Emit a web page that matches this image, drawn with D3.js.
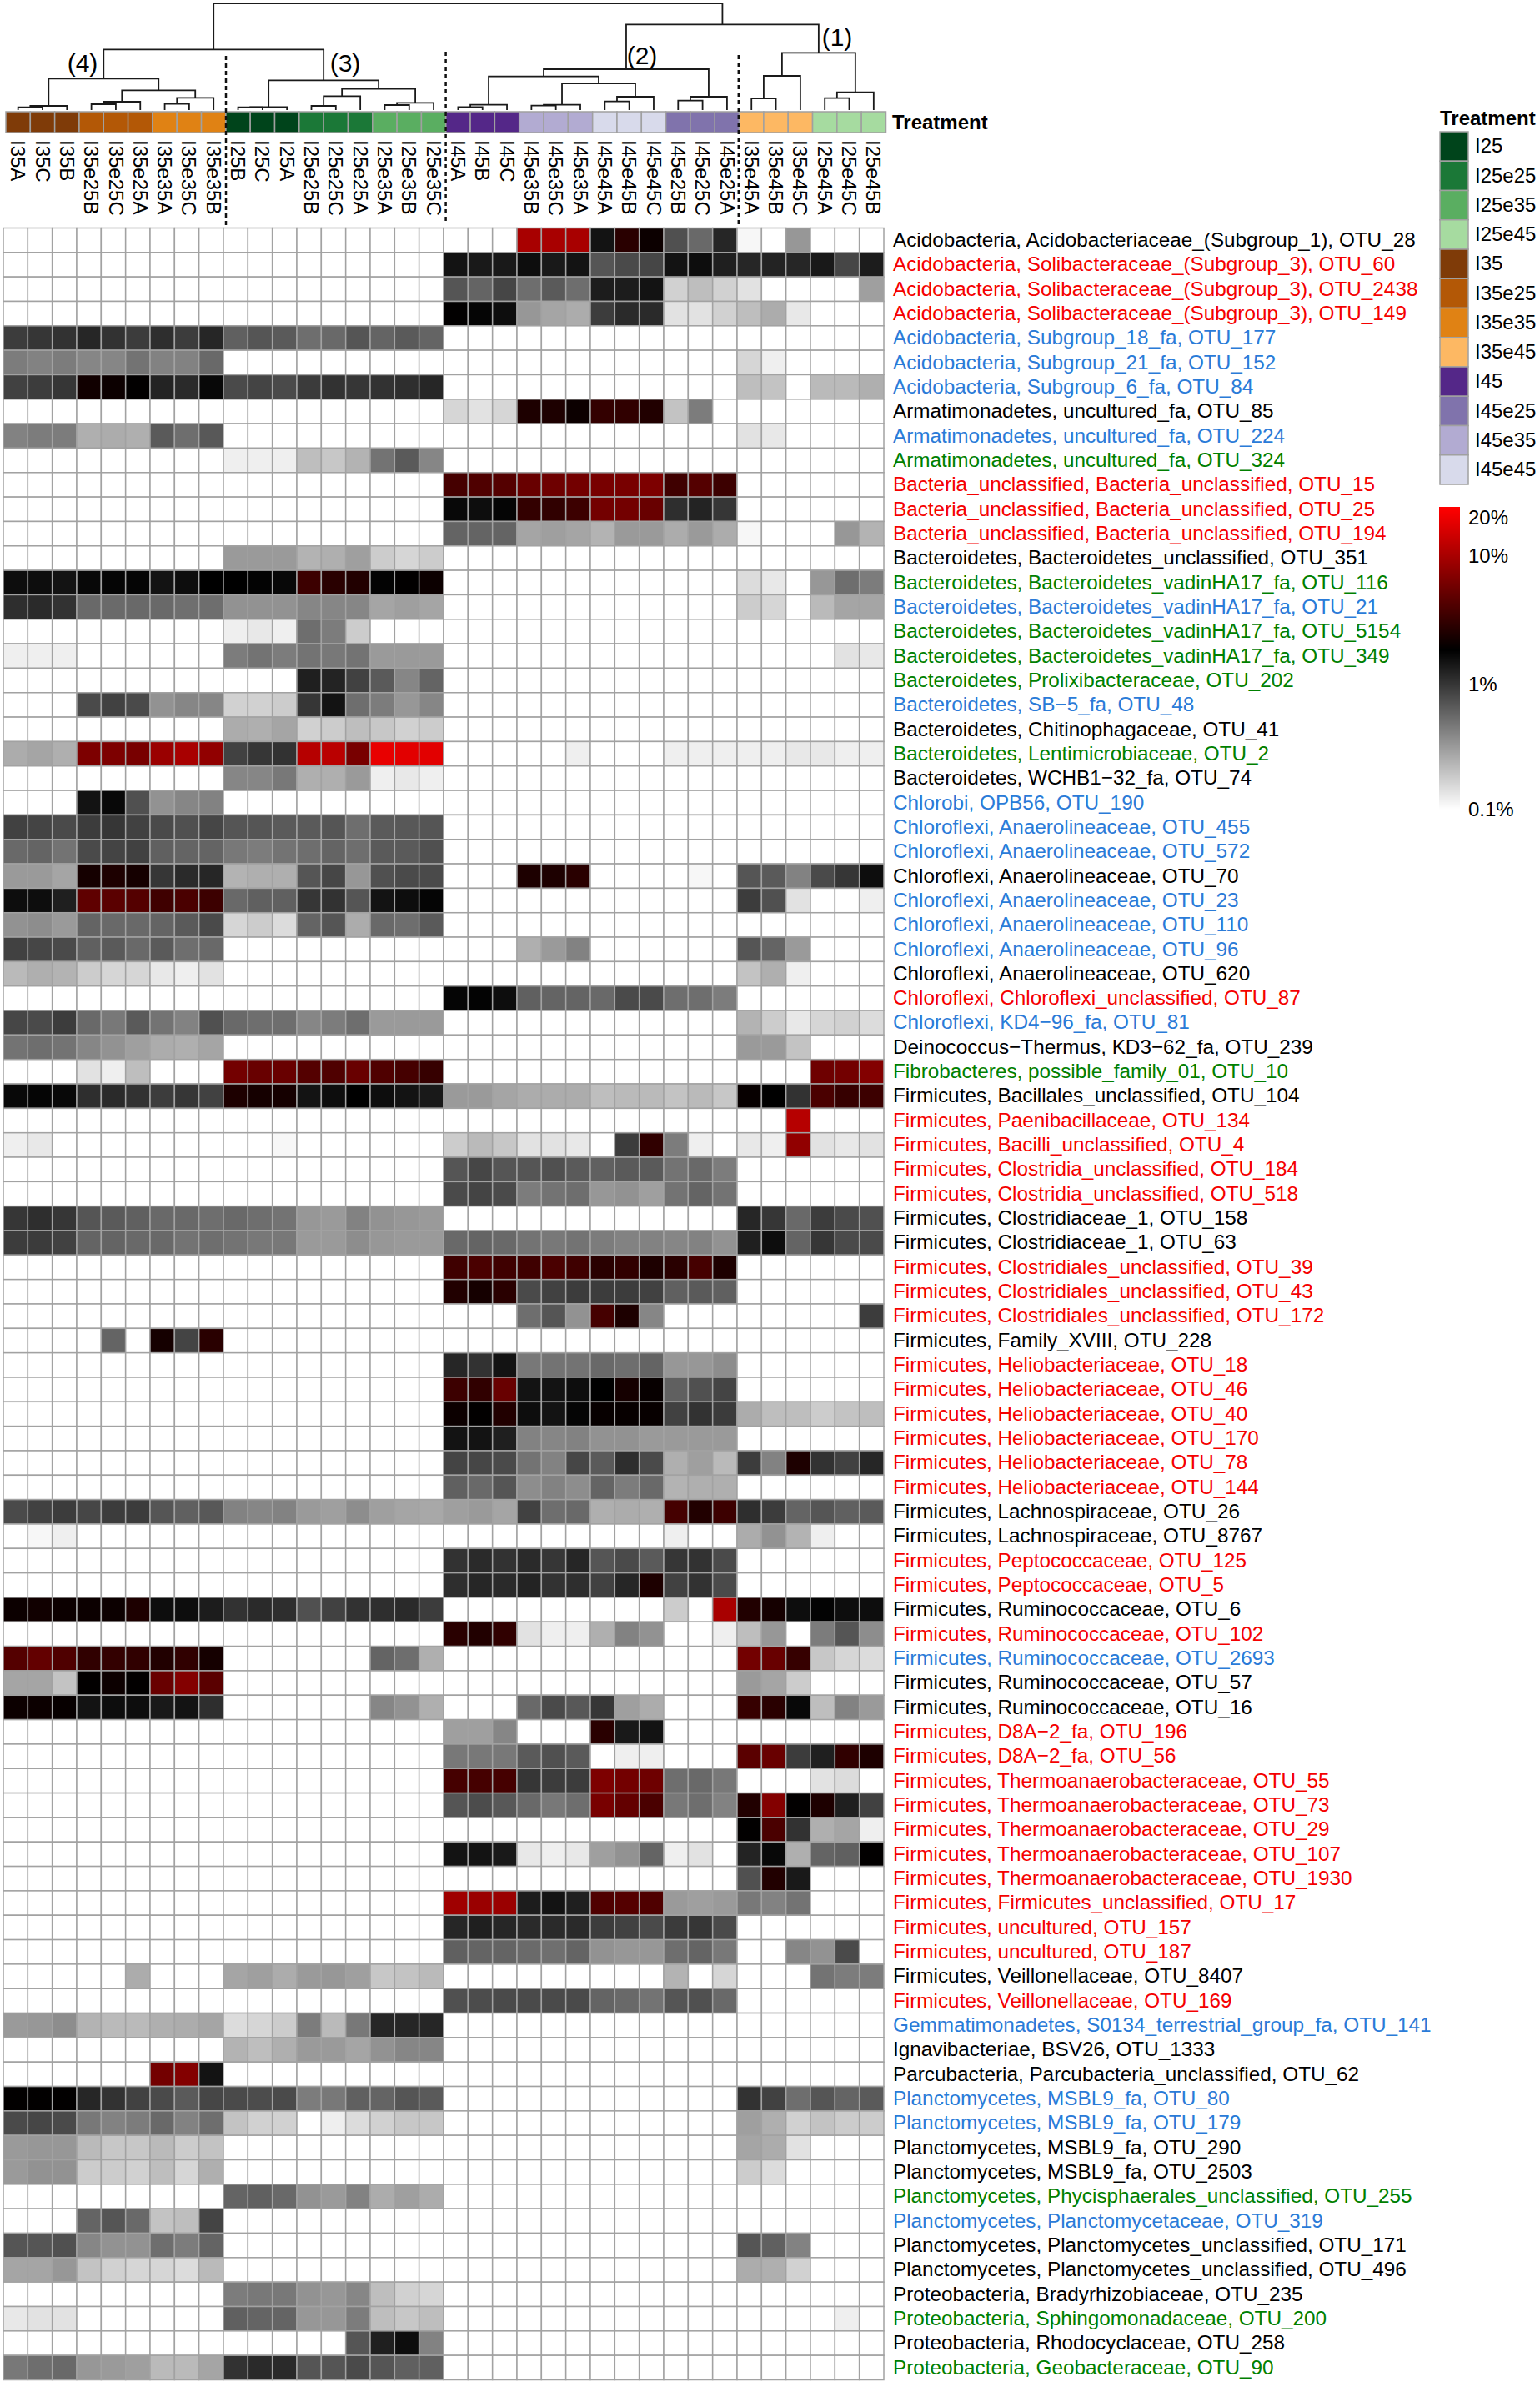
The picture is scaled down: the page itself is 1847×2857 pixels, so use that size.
<!DOCTYPE html>
<html><head><meta charset="utf-8">
<style>html,body{margin:0;padding:0;background:#fff}svg{display:block}text{font-family:"Liberation Sans",Arial,sans-serif}</style>
<script src="https://cdn.jsdelivr.net/npm/d3@7"></script>
</head><body><svg id="c" width="1847" height="2857"></svg>
<script>
const columns = ["I35A","I35C","I35B","I35e25B","I35e25C","I35e25A","I35e35A","I35e35C","I35e35B","I25B","I25C","I25A","I25e25B","I25e25C","I25e25A","I25e35A","I25e35B","I25e35C","I45A","I45B","I45C","I45e35B","I45e35C","I45e35A","I45e45A","I45e45B","I45e45C","I45e25B","I45e25C","I45e25A","I35e45A","I35e45B","I35e45C","I25e45A","I25e45C","I25e45B"];
const treatments = ["I25","I25e25","I25e35","I25e45","I35","I35e25","I35e35","I35e45","I45","I45e25","I45e35","I45e45"];
const treatmentColors = ["#00441b","#1b7837","#5aae61","#a6dba0","#7f3b08","#b35806","#e08214","#fdb863","#542788","#8073ac","#b2abd2","#d8daeb"];
const colorbarTicks = [0.1,1,10,20];
const rowLabels = [
"Acidobacteria, Acidobacteriaceae_(Subgroup_1), OTU_28","Acidobacteria, Solibacteraceae_(Subgroup_3), OTU_60","Acidobacteria, Solibacteraceae_(Subgroup_3), OTU_2438","Acidobacteria, Solibacteraceae_(Subgroup_3), OTU_149","Acidobacteria, Subgroup_18_fa, OTU_177","Acidobacteria, Subgroup_21_fa, OTU_152","Acidobacteria, Subgroup_6_fa, OTU_84","Armatimonadetes, uncultured_fa, OTU_85","Armatimonadetes, uncultured_fa, OTU_224","Armatimonadetes, uncultured_fa, OTU_324",
"Bacteria_unclassified, Bacteria_unclassified, OTU_15","Bacteria_unclassified, Bacteria_unclassified, OTU_25","Bacteria_unclassified, Bacteria_unclassified, OTU_194","Bacteroidetes, Bacteroidetes_unclassified, OTU_351","Bacteroidetes, Bacteroidetes_vadinHA17_fa, OTU_116","Bacteroidetes, Bacteroidetes_vadinHA17_fa, OTU_21","Bacteroidetes, Bacteroidetes_vadinHA17_fa, OTU_5154","Bacteroidetes, Bacteroidetes_vadinHA17_fa, OTU_349","Bacteroidetes, Prolixibacteraceae, OTU_202","Bacteroidetes, SB\u22125_fa, OTU_48",
"Bacteroidetes, Chitinophagaceae, OTU_41","Bacteroidetes, Lentimicrobiaceae, OTU_2","Bacteroidetes, WCHB1\u221232_fa, OTU_74","Chlorobi, OPB56, OTU_190","Chloroflexi, Anaerolineaceae, OTU_455","Chloroflexi, Anaerolineaceae, OTU_572","Chloroflexi, Anaerolineaceae, OTU_70","Chloroflexi, Anaerolineaceae, OTU_23","Chloroflexi, Anaerolineaceae, OTU_110","Chloroflexi, Anaerolineaceae, OTU_96",
"Chloroflexi, Anaerolineaceae, OTU_620","Chloroflexi, Chloroflexi_unclassified, OTU_87","Chloroflexi, KD4\u221296_fa, OTU_81","Deinococcus\u2212Thermus, KD3\u221262_fa, OTU_239","Fibrobacteres, possible_family_01, OTU_10","Firmicutes, Bacillales_unclassified, OTU_104","Firmicutes, Paenibacillaceae, OTU_134","Firmicutes, Bacilli_unclassified, OTU_4","Firmicutes, Clostridia_unclassified, OTU_184","Firmicutes, Clostridia_unclassified, OTU_518",
"Firmicutes, Clostridiaceae_1, OTU_158","Firmicutes, Clostridiaceae_1, OTU_63","Firmicutes, Clostridiales_unclassified, OTU_39","Firmicutes, Clostridiales_unclassified, OTU_43","Firmicutes, Clostridiales_unclassified, OTU_172","Firmicutes, Family_XVIII, OTU_228","Firmicutes, Heliobacteriaceae, OTU_18","Firmicutes, Heliobacteriaceae, OTU_46","Firmicutes, Heliobacteriaceae, OTU_40","Firmicutes, Heliobacteriaceae, OTU_170",
"Firmicutes, Heliobacteriaceae, OTU_78","Firmicutes, Heliobacteriaceae, OTU_144","Firmicutes, Lachnospiraceae, OTU_26","Firmicutes, Lachnospiraceae, OTU_8767","Firmicutes, Peptococcaceae, OTU_125","Firmicutes, Peptococcaceae, OTU_5","Firmicutes, Ruminococcaceae, OTU_6","Firmicutes, Ruminococcaceae, OTU_102","Firmicutes, Ruminococcaceae, OTU_2693","Firmicutes, Ruminococcaceae, OTU_57",
"Firmicutes, Ruminococcaceae, OTU_16","Firmicutes, D8A\u22122_fa, OTU_196","Firmicutes, D8A\u22122_fa, OTU_56","Firmicutes, Thermoanaerobacteraceae, OTU_55","Firmicutes, Thermoanaerobacteraceae, OTU_73","Firmicutes, Thermoanaerobacteraceae, OTU_29","Firmicutes, Thermoanaerobacteraceae, OTU_107","Firmicutes, Thermoanaerobacteraceae, OTU_1930","Firmicutes, Firmicutes_unclassified, OTU_17","Firmicutes, uncultured, OTU_157",
"Firmicutes, uncultured, OTU_187","Firmicutes, Veillonellaceae, OTU_8407","Firmicutes, Veillonellaceae, OTU_169","Gemmatimonadetes, S0134_terrestrial_group_fa, OTU_141","Ignavibacteriae, BSV26, OTU_1333","Parcubacteria, Parcubacteria_unclassified, OTU_62","Planctomycetes, MSBL9_fa, OTU_80","Planctomycetes, MSBL9_fa, OTU_179","Planctomycetes, MSBL9_fa, OTU_290","Planctomycetes, MSBL9_fa, OTU_2503",
"Planctomycetes, Phycisphaerales_unclassified, OTU_255","Planctomycetes, Planctomycetaceae, OTU_319","Planctomycetes, Planctomycetes_unclassified, OTU_171","Planctomycetes, Planctomycetes_unclassified, OTU_496","Proteobacteria, Bradyrhizobiaceae, OTU_235","Proteobacteria, Sphingomonadaceae, OTU_200","Proteobacteria, Rhodocyclaceae, OTU_258","Proteobacteria, Geobacteraceae, OTU_90"];
const labelClass = "krrrbbbkbgrrr"+"kgbgggbkgkb"+"bbkbbbkrbkgk"+"rrrrkkrrrk"+"rrrrrrkkrrkrbkk"+"rrrrrrrrrr"+"krbkkbbkkgbkkkgkg";
const labelColors = {k:"#000000",r:"#f50000",b:"#2a7bd8",g:"#008000"};
// percent abundance per OTU (row) and sample (column); 0 = at or below the 0.1% floor
const abundance = [
[0,0,0,0,0,0,0,0,0, 0,0,0,0,0,0,0,0,0, 0,0,0,10,10,10,1.5,2.8,2.1,.74,.56,1.2, .11,0,.33,0,0,0],
[0,0,0,0,0,0,0,0,0, 0,0,0,0,0,0,0,0,0, 1.5,1.4,1.4,1.6,1.4,1.5,.7,.8,.83,1.5,1.6,1.3, 1.2,1.25,1.2,1.4,.83,1.35],
[0,0,0,0,0,0,0,0,0, 0,0,0,0,0,0,0,0,0, .7,.59,.83,.53,.66,.53,1.35,1.35,1.5,.17,.21,.17, .14,0,0,0,0,.3],
[0,0,0,0,0,0,0,0,0, 0,0,0,0,0,0,0,0,0, 1.9,1.75,1.6,.33,.28,.26,.93,1.15,1.15,.14,.14,.17, .21,.26,.13,0,0,0],
[.93,1,1.05,1.2,1.05,.93,1.1,.93,1.2, .62,.7,.66,.53,.56,.7,.59,.66,.59, 0,0,0,0,0,0,0,0,0,0,0,0, 0,0,0,0,0,0],
[.45,.42,.45,.4,.4,.5,.42,.42,.56, 0,0,0,0,0,0,0,0,0, 0,0,0,0,0,0,0,0,0,0,0,0, .16,.12,0,0,0,0],
[.88,.93,1,2.2,2.1,1.9,1.25,1.15,1.7, .8,.85,.8,.95,1.05,1,1.05,1.1,1.2, 0,0,0,0,0,0,0,0,0,0,0,0, .21,.2,0,.22,.22,.25],
[0,0,0,0,0,0,0,0,0, 0,0,0,0,0,0,0,0,0, .16,.14,.16,2.5,2.5,2.1,3.1,3,2.6,.2,.45,0, 0,0,0,0,0,0],
[.42,.45,.45,.25,.26,.25,.66,.53,.68, 0,0,0,0,0,0,0,0,0, 0,0,0,0,0,0,0,0,0,0,0,0, .14,.13,0,0,0,0],
[0,0,0,0,0,0,0,0,0, .12,.12,.12,.21,.19,.24,.5,.66,.4, 0,0,0,0,0,0,0,0,0,0,0,0, 0,0,0,0,0,0],
[0,0,0,0,0,0,0,0,0, 0,0,0,0,0,0,0,0,0, 3.7,4.1,4.3,5.3,5.6,5.9,6.2,6.2,6.5,3.5,4.3,3.4, 0,0,0,0,0,0],
[0,0,0,0,0,0,0,0,0, 0,0,0,0,0,0,0,0,0, 1.7,1.6,1.75,3.1,3,3.4,5.9,5.9,5.3,1.1,1.25,1, 0,0,0,0,0,0],
[0,0,0,0,0,0,0,0,0, 0,0,0,0,0,0,0,0,0, .59,.59,.59,.28,.3,.28,.24,.32,.32,.26,.32,.26, .11,0,0,0,.33,.24],
[0,0,0,0,0,0,0,0,0, .32,.32,.32,.24,.25,.3,.18,.16,.18, 0,0,0,0,0,0,0,0,0,0,0,0, 0,0,0,0,0,0],
[1.6,1.6,1.5,1.7,1.75,1.75,1.5,1.6,1.85, 1.85,1.8,1.7,3.4,2.8,2.6,1.8,1.9,2.1, 0,0,0,0,0,0,0,0,0,0,0,0, .15,.13,0,.33,.53,.45],
[1.1,1.15,1.05,.56,.55,.56,.56,.52,.53, .35,.35,.35,.4,.4,.4,.28,.3,.28, 0,0,0,0,0,0,0,0,0,0,0,0, .18,.16,0,.22,.28,.28],
[0,0,0,0,0,0,0,0,0, .12,.13,.12,.53,.45,.18,0,0,0, 0,0,0,0,0,0,0,0,0,0,0,0, 0,0,0,0,0,0],
[.12,.12,.12,0,0,0,0,0,0, .45,.5,.45,.5,.47,.5,.32,.32,.32, 0,0,0,0,0,0,0,0,0,0,0,0, 0,0,0,0,.14,.13],
[0,0,0,0,0,0,0,0,0, 0,0,0,1.3,1.25,.88,.66,.4,.59, 0,0,0,0,0,0,0,0,0,0,0,0, 0,0,0,0,0,0],
[0,0,0,.8,.88,.8,.35,.4,.4, .17,.17,.18,1,1.5,.53,.45,.33,.4, 0,0,0,0,0,0,0,0,0,0,0,0, 0,0,0,0,0,0],
[0,0,0,0,0,0,0,0,0, .26,.25,.28,.17,.18,.21,.19,.17,.18, 0,0,0,0,0,0,0,0,0,0,0,0, 0,0,0,0,0,0],
[.26,.28,.25,6.5,6.5,6.2,8.7,10,8, .88,1,1.05,11.5,12,6.2,19,18,18, 0,0,0,0,0,.12,0,0,0,.12,.12,.12, .12,.12,.13,.13,.12,.12],
[0,0,0,0,0,0,0,0,0, .4,.4,.47,.25,.25,.32,.12,.13,.12, 0,0,0,0,0,0,0,0,0,0,0,0, 0,0,0,0,0,0],
[0,0,0,1.5,1.7,.74,.35,.4,.42, 0,0,0,0,0,0,0,0,0, 0,0,0,0,0,0,0,0,0,0,0,0, 0,0,0,0,0,0],
[.88,.85,.8,.93,1,.88,.8,.74,.83, .7,.7,.66,.66,.7,.53,.66,.68,.7, 0,0,0,0,0,0,0,0,0,0,0,0, 0,0,0,0,0,0],
[.56,.59,.5,.8,.85,.88,.62,.59,.59, .47,.45,.5,.53,.59,.53,.66,.66,.74, 0,0,0,0,0,0,0,0,0,0,0,0, 0,0,0,0,0,0],
[.32,.32,.28,2.3,2.5,2.3,1,1.15,1.2, .24,.25,.25,.7,.83,.33,.74,.8,.8, 0,0,0,2.5,2.5,2.8,0,0,0,0,.11,0, .7,.66,.42,.8,1,1.6],
[1.6,1.6,1.3,4.8,4.6,4.3,3.5,3.9,3.4, .56,.62,.62,1,1.05,.7,1.5,1.6,1.75, 0,0,0,0,0,0,0,0,0,0,0,0, .93,.74,.14,0,0,.12],
[.35,.37,.32,.59,.56,.56,.59,.66,.8, .16,.18,.15,.59,.7,.26,.56,.53,.66, 0,0,0,0,0,0,0,0,0,0,0,0, 0,0,0,0,0,0],
[.88,.83,.8,.62,.66,.56,.66,.53,.56, 0,0,0,0,0,0,0,0,0, 0,0,0,.25,.32,.42,0,0,0,0,0,0, .7,.59,.32,0,0,0],
[.22,.25,.24,.18,.16,.16,.13,.12,.14, 0,0,0,0,0,0,0,0,0, 0,0,0,0,0,0,0,0,0,0,0,0, .2,.25,.12,0,0,0],
[0,0,0,0,0,0,0,0,0, 0,0,0,0,0,0,0,0,0, 1.75,1.8,1.6,.62,.59,.59,.56,.8,.8,.53,.53,.45, 0,0,0,0,0,0],
[.83,.8,.93,.56,.47,.66,.5,.42,.74, .56,.53,.53,.4,.45,.53,.32,.32,.32, 0,0,0,0,0,0,0,0,0,0,0,0, .24,.18,.13,.16,.17,.15],
[.5,.53,.5,.4,.35,.3,.26,.25,.28, 0,0,0,0,0,0,0,0,0, 0,0,0,0,0,0,0,0,0,0,0,0, .32,.32,.2,0,0,0],
[0,0,0,.14,.12,.21,0,0,0, 5.9,5.3,5.3,4.3,4.1,5.3,4.1,3.7,3.2, 0,0,0,0,0,0,0,0,0,0,0,0, 0,0,0,5.6,5.9,6.9],
[1.7,1.75,1.7,1.1,1.15,1.05,.93,1,.88, 2.5,2.3,2.3,1.5,1.6,1.85,1.6,1.5,1.4, .32,.32,.28,.26,.26,.26,.21,.22,.22,.2,.22,.19, 2,1.85,1.05,3.9,3.2,3.4],
[0,0,0,0,0,0,0,0,0, 0,0,0,0,0,0,0,0,0, 0,0,0,0,0,0,0,0,0,0,0,0, 0,0,11.5,0,0,0],
[.12,.13,0,0,0,0,0,0,0, 0,0,.11,0,0,0,0,0,0, .18,.22,.19,.14,.14,.13,0,.93,3,.45,.12,0, .13,.12,8,.14,.13,.14],
[0,0,0,0,0,0,0,0,0, 0,0,0,0,0,0,0,0,0, .7,.83,.7,.7,.74,.66,.62,.66,.66,.5,.56,.45, 0,0,0,0,0,0],
[0,0,0,0,0,0,0,0,0, 0,0,0,0,0,0,0,0,0, .8,.85,.8,.45,.5,.53,.33,.35,.3,.5,.59,.5, 0,0,0,0,0,0],
[1,1.1,1,.7,.66,.62,.56,.56,.53, .56,.53,.5,.33,.32,.42,.35,.33,.32, 0,0,0,0,0,0,0,0,0,0,0,0, 1.2,1,.56,.93,.8,.74],
[.93,.95,.88,.59,.59,.56,.56,.5,.53, .5,.47,.47,.32,.32,.37,.33,.32,.32, .56,.59,.56,.5,.47,.5,.45,.42,.42,.4,.42,.35, 1.3,1.6,.59,1,.8,.8],
[0,0,0,0,0,0,0,0,0, 0,0,0,0,0,0,0,0,0, 3.5,3.9,3.5,3.5,3.9,3.5,2.8,3,2.5,2.8,3.7,2.5, 0,0,0,0,0,0],
[0,0,0,0,0,0,0,0,0, 0,0,0,0,0,0,0,0,0, 2.6,2.3,2.8,.8,.88,.93,.93,.93,.88,.62,.66,.62, 0,0,0,0,0,0],
[0,0,0,0,0,0,0,0,0, 0,0,0,0,0,0,0,0,0, 0,0,0,.53,.7,.35,3.7,2.5,.4,0,0,0, 0,0,0,0,0,.93],
[0,0,0,0,.59,0,2.3,.85,2.8, 0,0,0,0,0,0,0,0,0, 0,0,0,0,0,0,0,0,0,0,0,0, 0,0,0,0,0,0],
[0,0,0,0,0,0,0,0,0, 0,0,0,0,0,0,0,0,0, 1.2,1.05,1.5,.47,.5,.5,.56,.53,.59,.33,.33,.37, 0,0,0,0,0,0],
[0,0,0,0,0,0,0,0,0, 0,0,0,0,0,0,0,0,0, 3.4,3,5.3,1.5,1.5,1.6,1.85,2.3,2,.62,.74,.85, 0,0,0,0,0,0],
[0,0,0,0,0,0,0,0,0, 0,0,0,0,0,0,0,0,0, 2.1,1.9,2.6,1.6,1.5,1.75,2,2,2,.88,1.05,.95, .26,.21,.21,.18,.2,.21],
[0,0,0,0,0,0,0,0,0, 0,0,0,0,0,0,0,0,0, 1.5,1.5,1.3,.42,.4,.42,.35,.35,.32,.32,.32,.32, 0,0,0,0,0,0],
[0,0,0,0,0,0,0,0,0, 0,0,0,0,0,0,0,0,0, .85,.83,.8,.5,.42,.83,.66,1.1,.8,.25,.3,.22, .93,.42,2.5,1.05,.88,1.2],
[0,0,0,0,0,0,0,0,0, 0,0,0,0,0,0,0,0,0, .62,.56,.7,.37,.42,.37,.59,.45,.56,.24,.25,.25, 0,0,0,0,0,0],
[.8,.88,.93,.83,.93,.93,.7,.62,.68, .42,.4,.42,.32,.3,.37,.3,.28,.27, .3,.32,.28,.88,.53,.56,.25,.26,.25,3.7,2.6,3.4, 1.1,.93,.59,.7,.62,.66],
[0,.11,.12,0,0,0,0,0,0, 0,0,0,0,0,0,0,0,0, 0,0,0,0,0,0,0,0,0,.12,0,0, .26,.35,.24,.12,0,0],
[0,0,0,0,0,0,0,0,0, 0,0,0,0,0,0,0,0,0, 1.05,1.15,1.05,1.15,1,1.2,.7,.8,.66,1,1.05,.8, 0,0,0,0,0,0],
[0,0,0,0,0,0,0,0,0, 0,0,0,0,0,0,0,0,0, 1.1,1.2,1.15,1.25,1.05,1.1,.88,1.2,2.5,.88,1.05,.8, 0,0,0,0,0,0],
[2.1,2.2,2.1,2.1,2.1,2.5,1.6,1.6,1.35, 1.05,1.15,1.1,.74,.88,1.05,1.1,1.15,.93, 0,0,0,0,0,0,0,0,0,.18,0,10, 2.6,2.3,1.6,1.8,1.6,1.6],
[0,0,0,0,0,0,0,0,0, 0,0,0,0,0,0,0,0,0, 2.8,2.6,3,.14,.12,.12,.25,.42,.35,0,0,.12, .21,.33,0,.45,.7,.37],
[4.3,5,4.1,3,3.1,3,2.6,3,2.3, 0,0,0,0,0,0,.59,.53,.25, 0,0,0,0,0,0,0,0,0,0,0,0, 5.9,5.3,3.2,.19,.16,.15],
[.28,.28,.2,1.9,2.1,1.9,5.3,6.9,4.6, 0,0,0,0,0,0,0,0,0, 0,0,0,0,0,0,0,0,0,0,0,0, .32,.28,.18,0,0,0],
[2.1,2.1,2,1.5,1.6,1.6,1.4,1.5,1.1, 0,0,0,0,0,0,.4,.35,.25, 0,0,0,.56,.8,.68,1,.3,.26,0,0,0, 3.2,2.8,1.7,.21,.42,.32],
[0,0,0,0,0,0,0,0,0, 0,0,0,0,0,0,0,0,0, .3,.3,.4,0,0,0,2.8,1.4,1.5,0,0,0, 0,0,0,0,0,0],
[0,0,0,0,0,0,0,0,0, 0,0,0,0,0,0,0,0,0, .47,.47,.47,.66,.74,.66,0,.12,.12,0,0,0, 4.6,5.3,.93,1.3,3,2.5],
[0,0,0,0,0,0,0,0,0, 0,0,0,0,0,0,0,0,0, 3.7,3.7,3.7,1,.93,.93,6.5,5.9,5.6,.53,.56,.47, 0,0,0,.14,.15,0],
[0,0,0,0,0,0,0,0,0, 0,0,0,0,0,0,0,0,0, .7,.78,.68,.56,.47,.53,6.2,5,3.9,.47,.53,.42, 2.6,6.9,1.9,2.5,1.3,.88],
[0,0,0,0,0,0,0,0,0, 0,0,0,0,0,0,0,0,0, 0,0,0,0,0,0,0,0,0,0,0,0, 1.9,3.9,1.05,.25,.28,.12],
[0,0,0,0,0,0,0,0,0, 0,0,0,0,0,0,0,0,0, 1.5,1.5,1.4,.13,.12,.13,.3,.35,.59,.12,.14,0, 1.25,1.7,.25,.59,.62,1.9],
[0,0,0,0,0,0,0,0,0, 0,0,0,0,0,0,0,0,0, 0,0,0,0,0,0,0,0,0,0,0,0, .74,2.6,1.4,0,0,0],
[0,0,0,0,0,0,0,0,0, 0,0,0,0,0,0,0,0,0, 9.2,8.7,8.7,1.35,1.5,1.3,4.1,4.3,4.1,.32,.3,.32, .47,.42,.5,0,0,0],
[0,0,0,0,0,0,0,0,0, 0,0,0,0,0,0,0,0,0, 1.2,1.3,1.2,1.15,1.15,1.15,.93,.88,.8,.95,1,.8, 0,0,0,0,0,0],
[0,0,0,0,0,0,0,0,0, 0,0,0,0,0,0,0,0,0, .62,.59,.59,.55,.52,.59,.35,.33,.33,.53,.59,.47, 0,0,.4,.35,.8,0],
[0,0,0,0,0,.26,0,0,0, .28,.3,.26,.32,.33,.3,.19,.2,.22, 0,0,0,0,0,0,0,0,0,.24,0,.16, 0,0,0,.5,.45,.45],
[0,0,0,0,0,0,0,0,0, 0,0,0,0,0,0,0,0,0, .74,.78,.8,.8,.8,.8,.59,.56,.5,.7,.74,.56, 0,0,0,0,0,0],
[.32,.33,.37,.24,.22,.22,.25,.26,.28, .15,.16,.18,.45,.22,.47,1.2,1.2,1.2, 0,0,0,0,0,0,0,0,0,0,0,0, 0,0,0,0,0,0],
[0,0,0,0,0,0,0,0,0, .24,.21,.25,.32,.32,.28,.35,.4,.4, 0,0,0,0,0,0,0,0,0,0,0,0, 0,0,0,0,0,0],
[0,0,0,0,0,0,5.9,6.9,1.5, 0,0,0,0,0,0,0,0,0, 0,0,0,0,0,0,0,0,0,0,0,0, 0,0,0,0,0,0],
[1.9,1.9,1.9,1.2,1.05,.88,.8,.66,.83, .8,.78,.8,.45,.47,.62,.59,.7,.66, 0,0,0,0,0,0,0,0,0,0,0,0, 1.05,.88,.53,.7,.59,.66],
[.8,.83,.8,.47,.42,.45,.56,.42,.53, .2,.17,.17,0,.12,.15,.17,.19,.19, 0,0,0,0,0,0,0,0,0,0,0,0, .3,.25,.17,.2,.18,.18],
[.32,.33,.33,.22,.19,.19,.22,.18,.2, 0,0,0,0,0,0,0,0,0, 0,0,0,0,0,0,0,0,0,0,0,0, .28,.26,.14,0,0,0],
[.32,.35,.35,.18,.18,.17,.21,.16,.25, 0,0,0,0,0,0,0,0,0, 0,0,0,0,0,0,0,0,0,0,0,0, .18,.15,0,0,0,0],
[0,0,0,0,0,0,0,0,0, .59,.62,.56,.35,.32,.42,.26,.3,.26, 0,0,0,0,0,0,0,0,0,0,0,0, 0,0,0,0,0,0],
[0,0,0,.59,.7,.56,.2,.21,.85, 0,0,0,0,0,0,0,0,0, 0,0,0,0,0,0,0,0,0,0,0,0, 0,0,0,0,0,0],
[.7,.7,.74,.4,.35,.35,.53,.45,.59, 0,0,0,0,0,0,0,0,0, 0,0,0,0,0,0,0,0,0,0,0,0, .7,.62,.42,0,0,0],
[.28,.28,.33,.2,.17,.16,.16,.15,.22, 0,0,0,0,0,0,0,0,0, 0,0,0,0,0,0,0,0,0,0,0,0, .26,.25,.17,0,0,0],
[0,0,0,0,0,0,0,0,0, .45,.47,.47,.35,.33,.4,.21,.17,.16, 0,0,0,0,0,0,0,0,0,0,0,0, 0,0,0,0,0,0],
[.13,.14,.14,0,0,0,0,0,0, .62,.59,.59,.33,.33,.45,.21,.19,.21, 0,0,0,0,0,0,0,0,0,0,0,0, 0,0,0,0,.12,0],
[0,0,0,0,0,0,0,0,0, 0,0,0,0,0,.7,1.3,1.6,.42, 0,0,0,0,0,0,0,0,0,0,0,0, 0,0,0,0,0,0],
[.47,.53,.56,.33,.32,.3,.22,.22,.28, 1.05,1.15,1.15,.7,.7,.8,.7,.62,.62, 0,0,0,0,0,0,0,0,0,0,0,0, 0,0,0,0,0,0]
];
const n = (h, ...c) => ({h, c});
// sample dendrogram: merge heights on an arbitrary distance scale
const dendrogram = n(128,
  n(72.7,
    n(37.7, n(5, n(3.3,"I35A","I35C"),"I35B"),
            n(23.7, n(10,n(7,"I35e25B","I35e25C"),"I35e25A"), n(14.7,n(7.3,"I35e35A","I35e35C"),"I35e35B"))),
    n(35.7, n(3.7,n(3.3,"I25B","I25C"),"I25A"),
            n(25.3, n(16.7,n(5,"I25e25B","I25e25C"),"I25e25A"), n(8.7,n(6,"I25e35A","I25e35B"),"I25e35C")))),
  n(102.7,
    n(49,
      n(40.3, n(6.3,n(3.7,"I45A","I45B"),"I45C"),
              n(32, n(6.3,n(5.3,"I45e35B","I45e35C"),"I45e35A"), n(16,n(10.3,"I45e45A","I45e45B"),"I45e45C"))),
      n(16,n(11.3,"I45e25B","I45e25C"),"I45e25A")),
    n(68.7, n(41,n(14,"I35e45A","I35e45B"),"I35e45C"), n(21.3,n(14.3,"I25e45A","I25e45C"),"I25e45B"))));
const clusterTags = [["(4)",99,75],["(3)",414,75],["(2)",770,66],["(1)",1004,44]];
const clusterCuts = [[271,67,274],[534.6,62,269],[885.8,66,273]];

const svg = d3.select("#c");
const FS = 24;
const x = d3.scaleBand(columns,[4,1060]);
const xBar = d3.scaleBand(columns,[7,1062.5]);
const y = d3.scaleBand(rowLabels,[273.5,2854.5]);
const abundanceColor = d3.scaleLog([0.1,1.86,24],["#ffffff","#000000","#ff0000"]).clamp(true).interpolate(d3.interpolateRgb);
const color = v => abundanceColor(Math.max(v,0.1));
const treatColor = d3.scaleOrdinal(treatments,treatmentColors);
const treatmentOf = s => s.slice(0,-1);
const GRID = "#a2a2a2";

// heatmap
const rows = svg.append("g").selectAll("g").data(abundance).join("g");
rows.selectAll("rect").data((r,i)=>r.map((v,j)=>({v,row:rowLabels[i],col:columns[j]}))).join("rect")
  .attr("x",d=>x(d.col)).attr("y",d=>y(d.row)).attr("width",x.bandwidth()).attr("height",y.bandwidth())
  .attr("fill",d=>color(d.v)).attr("stroke",GRID).attr("stroke-width",1.5);

// row labels
const rowAxis = svg.append("g").attr("transform","translate(1060,0)")
  .call(d3.axisRight(y).tickSize(0).tickPadding(11));
rowAxis.select(".domain").remove();
rowAxis.selectAll("text").attr("font-size",24.3).attr("font-family",null)
  .attr("fill",(d,i)=>labelColors[labelClass[i]]);

// annotation bar
svg.append("g").selectAll("rect").data(columns).join("rect")
  .attr("x",d=>xBar(d)).attr("y",134).attr("width",xBar.bandwidth()).attr("height",25)
  .attr("fill",d=>treatColor(treatmentOf(d))).attr("stroke","#a0a0a0").attr("stroke-width",1.5);
svg.append("text").attr("x",1070).attr("y",147).attr("dy",".35em").attr("font-size",FS).attr("font-weight","bold").text("Treatment");

// column labels
const colAxis = svg.append("g").attr("transform","translate(0,168)").call(d3.axisBottom(xBar).tickSize(0));
colAxis.select(".domain").remove();
colAxis.selectAll("text").attr("font-size",FS).attr("font-family",null).attr("fill","#000")
  .attr("text-anchor","start").attr("x",0).attr("y",0).attr("dy",".35em").attr("transform","rotate(90)");

// dendrogram
const yD = d3.scaleLinear([0,128],[132,4]);
const root = d3.hierarchy(dendrogram,d=>d.c);
root.eachAfter(nd=>{
  if(!nd.children){nd.px=xBar(nd.data)+xBar.bandwidth()/2;nd.py=yD(0);}
  else{nd.px=d3.mean(nd.children,c=>c.px);nd.py=yD(nd.data.h);}
});
svg.append("g").selectAll("path").data(root.descendants().filter(d=>d.children)).join("path")
  .attr("fill","none").attr("stroke","#1a1a1a").attr("stroke-width",1.8)
  .attr("d",d=>{const [a,b]=d.children;return `M${a.px},${a.py}V${d.py}H${b.px}V${b.py}`;});
svg.append("g").selectAll("line").data(clusterCuts).join("line")
  .attr("x1",d=>d[0]).attr("x2",d=>d[0]).attr("y1",d=>d[1]).attr("y2",d=>d[2])
  .attr("stroke","#111").attr("stroke-width",2.5).attr("stroke-dasharray","5 4");
svg.append("g").selectAll("text").data(clusterTags).join("text")
  .attr("x",d=>d[1]).attr("y",d=>d[2]).attr("dy",".35em").attr("text-anchor","middle").attr("font-size",30).text(d=>d[0]);

// treatment legend
svg.append("text").attr("x",1727).attr("y",141.5).attr("dy",".35em").attr("font-size",FS).attr("font-weight","bold").text("Treatment");
const yL = d3.scaleBand(treatments,[158,581]);
const lg = svg.append("g");
lg.selectAll("rect").data(treatments).join("rect")
  .attr("x",1727).attr("y",d=>yL(d)).attr("width",34).attr("height",yL.bandwidth())
  .attr("fill",d=>treatColor(d)).attr("stroke","#a0a0a0").attr("stroke-width",1.5);
const legAxis = svg.append("g").attr("transform","translate(1761,0)").call(d3.axisRight(yL).tickSize(0).tickPadding(8));
legAxis.select(".domain").remove();
legAxis.selectAll("text").attr("font-size",FS).attr("font-family",null).attr("fill","#000");

// colour bar
const yC = d3.scaleLog([0.1,1,10,20],[971,821,667,621]);
svg.append("g").selectAll("rect").data(d3.range(608,974)).join("rect")
  .attr("x",1726).attr("y",d=>d).attr("width",25).attr("height",1.2)
  .attr("fill",d=>color(yC.invert(d+0.5)));
const cbAxis = svg.append("g").attr("transform","translate(1751,0)")
  .call(d3.axisRight(yC).tickValues(colorbarTicks).tickFormat(d=>d+"%").tickSize(0).tickPadding(10));
cbAxis.select(".domain").remove();
cbAxis.selectAll("text").attr("font-size",FS).attr("font-family",null).attr("fill","#000");
</script></body></html>
